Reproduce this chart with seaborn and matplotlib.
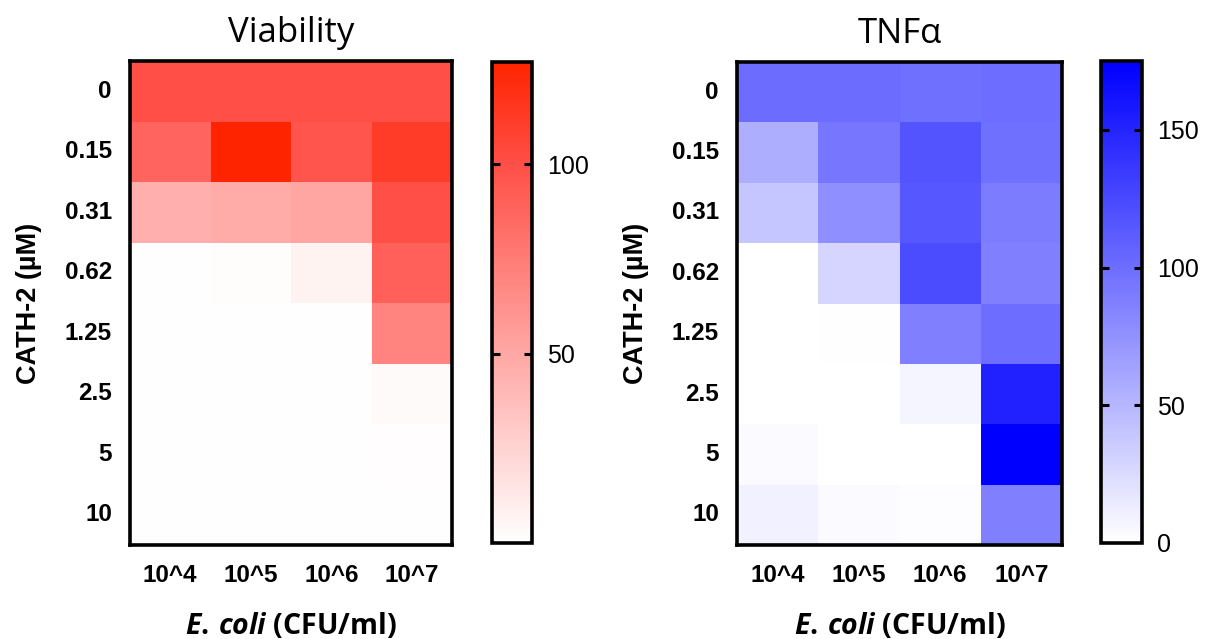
import numpy as np
import pandas as pd
import matplotlib
matplotlib.use("Agg")
import matplotlib.pyplot as plt
import seaborn as sns
from matplotlib.colors import LinearSegmentedColormap

# ---- data ----
ecoli = ["10^4", "10^5", "10^6", "10^7"]
cath2 = ["0", "0.15", "0.31", "0.62", "1.25", "2.5", "5", "10"]

viability = [
    [100, 100, 100, 100],
    [88, 127, 97, 112],
    [45, 48, 51, 100],
    [0.5, 1.5, 7, 90],
    [0.5, 0.5, 0.5, 70],
    [0.5, 0.5, 0.5, 3],
    [0.5, 0.5, 0.5, 1],
    [0.5, 0.5, 0.5, 0.5],
]
tnfa = [
    [101, 101, 98, 100],
    [56, 94, 117, 98],
    [40, 77, 115, 90],
    [0, 29, 123, 87],
    [0, 1, 87, 100],
    [0, 0, 7, 152],
    [4, 0, 0, 175],
    [10, 3, 2, 87],
]
via_ticks = [50, 100]
tnf_ticks = [0, 50, 100, 150]

sns.set_theme(style="white")
plt.rcParams["font.family"] = ["Liberation Sans", "DejaVu Sans"]
plt.rcParams["text.color"] = "black"
plt.rcParams["axes.labelcolor"] = "black"
plt.rcParams["xtick.color"] = "black"
plt.rcParams["ytick.color"] = "black"
plt.rcParams["mathtext.fontset"] = "custom"
plt.rcParams["mathtext.it"] = "Open Sans:italic:bold"
plt.rcParams["mathtext.rm"] = "Open Sans:bold"

reds = LinearSegmentedColormap.from_list(
    "reds", [(0.0, "#FFFFFF"), (0.4, "#FFA6A3"), (0.79, "#FF4F47"), (1.0, "#FF2400")])
blues = LinearSegmentedColormap.from_list("blues", ["#FFFFFF", "#0000FF"])

fig = plt.figure(figsize=(12.05, 6.39), dpi=100)

W, H = 1205, 639
def box(x0, x1, y0, y1):
    return [x0 / W, 1 - y1 / H, (x1 - x0) / W, (y1 - y0) / H]

ax1 = fig.add_axes(box(130, 452, 61, 545))
cax1 = fig.add_axes(box(492, 532, 62, 543))
ax2 = fig.add_axes(box(737, 1062, 62, 545))
cax2 = fig.add_axes(box(1101, 1142, 61, 543))

panels = [
    (ax1, cax1, viability, reds, 0, 127, via_ticks, "Viability"),
    (ax2, cax2, tnfa, blues, 0, 175, tnf_ticks, "TNF\u03b1"),
]

for ax, cax, vals, cmap, vmin, vmax, ticks, title in panels:
    df = pd.DataFrame(vals, index=cath2, columns=ecoli)
    sns.heatmap(df, ax=ax, cbar_ax=cax, cmap=cmap, vmin=vmin, vmax=vmax,
                cbar_kws={"ticks": ticks})
    for s in ax.spines.values():
        s.set_visible(True)
        s.set_color("black")
        s.set_linewidth(2.6)
    ax.tick_params(axis="both", length=0)
    ax.tick_params(axis="x", pad=14)
    ax.tick_params(axis="y", pad=13)
    ax.set_xticklabels(ecoli, fontsize=17.5, fontweight="bold", rotation=0)
    ax.set_yticklabels(cath2, fontsize=17.5, fontweight="bold", rotation=0)
    ax.set_ylabel("CATH-2 (\u00b5M)", fontsize=19.5, fontweight="bold", labelpad=16)
    ax.set_xlabel(r"$\mathit{E.\!\ coli}$ (CFU/ml)", fontsize=20.5, fontweight="bold",
                  family=["Open Sans", "DejaVu Sans"], labelpad=17)
    ax.set_title(title, fontsize=25, family=["Open Sans", "DejaVu Sans"], pad=14)

    cb = ax.collections[0].colorbar
    cb.outline.set_edgecolor("black")
    cb.outline.set_linewidth(2.6)
    cax.set_axisbelow(False)
    cax.tick_params(axis="y", length=0, labelsize=18, pad=11)
    for t in cax.get_yticklabels():
        t.set_fontfamily(["Liberation Sans", "DejaVu Sans"])
    # inward tick marks on both edges of the colour bar
    inner = [t for t in ticks if vmin < t < vmax]
    tr = cax.get_yaxis_transform()
    cax.hlines(inner, 0.0, 0.2, transform=tr, colors="black", linewidth=2.2,
               zorder=5, clip_on=False)
    cax.hlines(inner, 0.8, 1.0, transform=tr, colors="black", linewidth=2.2,
               zorder=5, clip_on=False)

fig.savefig("out.png", dpi=100, facecolor="white")
